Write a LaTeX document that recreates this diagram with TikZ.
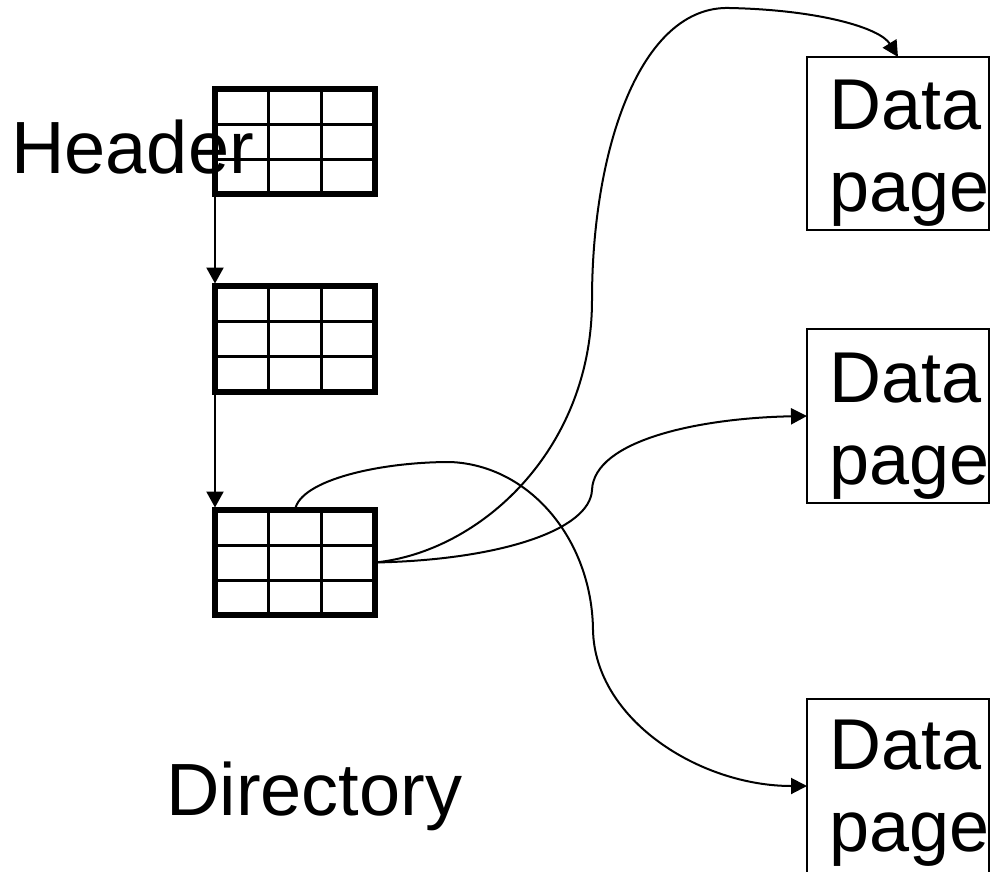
\documentclass[tikz,border=0pt]{standalone}
\usepackage{fontspec}
\setmainfont{Liberation Sans}
\usetikzlibrary{arrows.meta}
\begin{document}
\begin{tikzpicture}[x=1pt,y=-1pt,
  gridbox/.style={draw, line width=5.5pt, minimum width=160pt, minimum height=105pt, inner sep=0pt, outer sep=0pt, anchor=north west},
  innerline/.style={line width=2.8pt},
  dbox/.style={draw, line width=2.2pt, minimum width=182pt, inner sep=0pt, outer sep=0pt, anchor=north west},
  lbl/.style={font=\fontsize{72}{82}\selectfont, inner sep=0pt, anchor=base west},
  biglbl/.style={lbl, font=\fontsize{74}{84}\selectfont},
  harrow/.style={line width=2.2pt, -{Triangle[length=16pt,width=17pt]}, shorten >=2.5pt},
  carrow/.style={line width=2pt, -{Triangle[length=16pt,width=16pt]}}
]
\useasboundingbox (0,0) rectangle (994,871);
\clip (0,0) rectangle (994,871);

% directory grids
\node[gridbox] (g1) at (215,89) {};
\node[gridbox, minimum height=106pt] (g2) at (215,286) {};
\node[gridbox] (g3) at (215,510) {};
\foreach \g in {g1,g2,g3}{
  \draw[innerline] ([xshift=53.3pt]\g.north west) -- ([xshift=53.3pt]\g.south west);
  \draw[innerline] ([xshift=106.6pt]\g.north west) -- ([xshift=106.6pt]\g.south west);
  \draw[innerline] ([yshift=-35.3pt]\g.north west) -- ([yshift=-35.3pt]\g.north east);
  \draw[innerline] ([yshift=-70.6pt]\g.north west) -- ([yshift=-70.6pt]\g.north east);
}

% data pages
\node[dbox, minimum height=173pt] (d1) at (807,57) {};
\node[dbox, minimum height=174pt] (d2) at (807,329) {};
\node[dbox, minimum height=200pt] (d3) at (807,699) {};

% labels
\node[biglbl] (hdr) at (11,173) {Header};
\node[biglbl] (dir) at (166,815) {Directory};
\node[lbl] (t1a) at (829,129) {Data};
\node[lbl] (t1b) at (829,211) {page};
\node[lbl] (t2a) at (829,402) {Data};
\node[lbl] (t2b) at (829,484) {page};
\node[lbl] (t3a) at (829,769) {Data};
\node[lbl] (t3b) at (829,851) {page};

% header chain
\draw[harrow] (g1.south west) -- (g2.north west);
\draw[harrow] (g2.south west) -- (g3.north west);

% pointers to data pages
\draw[carrow] (g3.east) .. controls (480,552) and (592,450) .. (592,300)
  .. controls (592,150) and (640,5) .. (730,8)
  .. controls (820,10) and (880,28) .. (d1.north);
\draw[carrow] (g3.east) .. controls (500,560) and (590,530) .. (592,490)
  .. controls (594,440) and (700,418) .. (d2.west);
\draw[carrow] (g3.north) .. controls (300,480) and (380,462) .. (450,462)
  .. controls (530,465) and (592,540) .. (593,630)
  .. controls (595,720) and (700,786) .. ([yshift=-87pt]d3.north west);
\end{tikzpicture}
\end{document}
